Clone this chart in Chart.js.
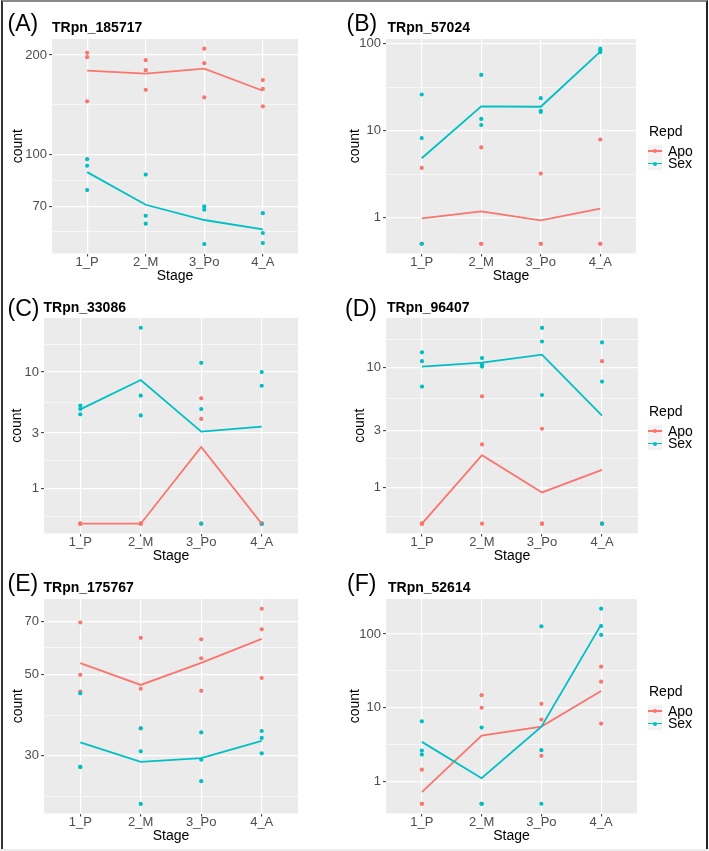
<!DOCTYPE html>
<html>
<head>
<meta charset="utf-8">
<script src="https://cdn.jsdelivr.net/npm/chart.js@4.4.1/dist/chart.umd.min.js"></script>
<style>
  body { margin: 0; width: 709px; height: 851px; position: relative; background: #fff; overflow: hidden;
         font-family: "Liberation Sans", Arial, Helvetica, sans-serif; }
  #frame { position: absolute; left: 1px; top: 0; width: 707px; height: 849px; box-sizing: border-box;
           border-top: 2px solid #8a8a8a; border-left: 2px solid #333; border-right: 2px solid #222; }
  #strip { position: absolute; left: 0; top: 849px; width: 709px; height: 2px; background: #ececec; }
  canvas { position: absolute; }
  .tag { position: absolute; font-size: 23px; line-height: 23px; color: #000; white-space: nowrap; }
  .ttl { position: absolute; font-size: 14px; line-height: 14px; font-weight: bold; color: #000; white-space: nowrap; }
  .lg { position: absolute; font-size: 14px; line-height: 14px; color: #000; white-space: nowrap; }
  .key { position: absolute; width: 14px; height: 12.5px; background: #f2f2f2; }
  .key i { position: absolute; left: 0; top: 5.4px; width: 14px; height: 1.8px; }
  .key b { position: absolute; left: 5px; top: 4.25px; width: 4px; height: 4px; border-radius: 2px; }
</style>
</head>
<body>
<div id="frame"></div>
<div id="strip"></div>
<script>
const stages = ['1_P', '2_M', '3_Po', '4_A'];
const groups = ['Apo', 'Sex'];
const colors = ['#F8766D', '#00BFC4'];
const legendTitle = 'Repd';

// one array per stage, zero counts sit at 0.5
// (A) TRpn_185717
const aApo = [[203, 197, 145], [193, 180, 157], [209, 189, 149], [168, 158, 140]];
const aSex = [[97, 92.7, 78.3], [87.2, 65.5, 62], [69.9, 68.3, 53.8], [66.7, 58.1, 54.2]];
const aApoMean = [179.5, 175.7, 182, 156];
const aSexMean = [88.7, 70.7, 63.6, 59.6];

// (B) TRpn_57024
const bApo = [[3.72, 0.5, 0.5], [6.4, 0.5, 0.5], [3.2, 0.5, 0.5], [7.9, 0.5, 0.5]];
const bSex = [[26, 8.2, 0.5], [43.7, 13.6, 11.6], [23.6, 16.9, 16.4], [87.5, 83.4, 80]];
const bApoMean = [0.98, 1.18, 0.93, 1.27];
const bSexMean = [4.8, 19, 18.8, 81];

// (C) TRpn_33086
const cApo = [[0.5, 0.5, 0.5], [0.5, 0.5, 0.5], [5.95, 3.96, 0.5], [0.5, 0.5, 0.5]];
const cSex = [[5.15, 4.82, 4.34], [24, 6.27, 4.25], [12, 4.82, 0.5], [10, 7.63, 0.5]];
const cApoMean = [0.5, 0.5, 2.28, 0.5];
const cSexMean = [4.78, 8.54, 3.08, 3.4];

// (D) TRpn_96407
const dApo = [[0.5, 0.5, 0.5], [5.76, 2.29, 0.5], [3.09, 0.5, 0.5], [11.3, 0.5, 0.5]];
const dSex = [[13.4, 11.3, 6.94], [12, 10.65, 10.2], [21.4, 16.5, 5.91], [16.2, 7.64, 0.5]];
const dApoMean = [0.5, 1.86, 0.91, 1.405];
const dSexMean = [10.2, 11, 12.8, 3.97];

// (E) TRpn_175767
const eApo = [[69.4, 49.9, 44.9], [63, 45.7, 35.6], [62.4, 55.4, 45.1], [75.7, 66.5, 48.9]];
const eSex = [[44.4, 27.9, 27.9], [35.6, 30.8, 22.1], [34.7, 29.2, 25.5], [35, 33.5, 30.4]];
const eApoMean = [53.7, 46.8, 53.8, 62.6];
const eSexMean = [32.6, 28.8, 29.5, 32.9];

// (F) TRpn_52614
const fApo = [[1.45, 0.5, 0.5], [14.8, 10, 0.5], [11.3, 6.92, 2.23], [36.1, 22.6, 6.1]];
const fSex = [[6.56, 2.63, 2.32], [5.39, 0.5, 0.5], [127, 2.66, 0.5], [220, 128, 97]];
const fApoMean = [0.72, 4.2, 5.56, 16.9];
const fSexMean = [3.45, 1.11, 5.56, 134];

// y axis breaks per panel
const breaksA = [70, 100, 200], minorA = [58.6, 83.7, 141.4];
const breaksB = [1, 10, 100], minorB = [3.16, 31.6];
const breaksC = [1, 3, 10], minorC = [0.577, 1.73, 5.48, 17.3];
const breaksE = [30, 50, 70], minorE = [23.2, 38.7, 59.2];

const panels = [
  {tag: '(A)', name: 'TRpn_185717', apo: aApo, sex: aSex, apoM: aApoMean, sexM: aSexMean,
   min: 50.4, max: 223.5, br: breaksA, mi: minorA,
   x: 0, w: 302, padR: 2, axisW: 52, cntPad: 9.6, top: 39, bot: 254,
   tagPos: [7.5, 12.2], ttlPos: [52, 19.9]},
  {tag: '(B)', name: 'TRpn_57024', apo: bApo, sex: bSex, apoM: bApoMean, sexM: bSexMean,
   min: 0.386, max: 113, br: breaksB, mi: minorB,
   x: 300, w: 409, padR: 73, axisW: 86, cntPad: 46.6, top: 39, bot: 254,
   tagPos: [346.5, 12.2], ttlPos: [387.5, 20.4], legend: 131},
  {tag: '(C)', name: 'TRpn_33086', apo: cApo, sex: cSex, apoM: cApoMean, sexM: cSexMean,
   min: 0.412, max: 29.1, br: breaksC, mi: minorC,
   x: 0, w: 302, padR: 2, axisW: 44, cntPad: 8.3, top: 318, bot: 534,
   tagPos: [7.5, 297.2], ttlPos: [43.5, 299.9]},
  {tag: '(D)', name: 'TRpn_96407', apo: dApo, sex: dSex, apoM: dApoMean, sexM: dSexMean,
   min: 0.414, max: 25.9, br: breaksC, mi: minorC,
   x: 300, w: 409, padR: 71, axisW: 86, cntPad: 51.3, top: 318, bot: 534,
   tagPos: [345, 297.2], ttlPos: [387, 300.4], legend: 411},
  {tag: '(E)', name: 'TRpn_175767', apo: eApo, sex: eSex, apoM: eApoMean, sexM: eSexMean,
   min: 20.8, max: 80.5, br: breaksE, mi: minorE,
   x: 0, w: 302, padR: 2, axisW: 44, cntPad: 9.6, top: 599, bot: 814,
   tagPos: [7.5, 572.2], ttlPos: [43.5, 580.4]},
  {tag: '(F)', name: 'TRpn_52614', apo: fApo, sex: fSex, apoM: fApoMean, sexM: fSexMean,
   min: 0.369, max: 298, br: breaksB, mi: minorB,
   x: 300, w: 409, padR: 72, axisW: 86, cntPad: 46.6, top: 599, bot: 814,
   tagPos: [347, 572.2], ttlPos: [388, 580.4], legend: 691}
];

// grey panel background like ggplot
const panelBg = {
  id: 'panelBg',
  beforeDraw(chart) {
    const {ctx, chartArea: a} = chart;
    ctx.save();
    ctx.fillStyle = '#EBEBEB';
    ctx.fillRect(a.left, a.top, a.right - a.left, a.bottom - a.top);
    ctx.restore();
  }
};

function addText(cls, txt, x, y) {
  const d = document.createElement('div');
  d.className = cls;
  d.textContent = txt;
  d.style.left = x + 'px';
  d.style.top = y + 'px';
  document.body.appendChild(d);
}

function addLegend(x, y) {
  addText('lg', legendTitle, x + 1, y - 7.3);
  groups.forEach((g, i) => {
    const cy = y + 20 + i * 12.5;
    const k = document.createElement('div');
    k.className = 'key';
    k.style.left = x + 'px';
    k.style.top = (cy - 6.25) + 'px';
    k.innerHTML = '<i style="background:' + colors[i] + '"></i><b style="background:' + colors[i] + '"></b>';
    document.body.appendChild(k);
    addText('lg', g, x + 20, cy - 7.3);
  });
}

const toPoints = rows => rows.flatMap((vals, i) => vals.map(v => ({x: i + 1, y: v})));
const toLine = vals => vals.map((v, i) => ({x: i + 1, y: v}));

function makePanel(p) {
  const xAxisH = 31.5;
  const cv = document.createElement('canvas');
  cv.width = p.w;
  cv.height = p.bot - p.top + 10 + xAxisH;
  cv.style.left = p.x + 'px';
  cv.style.top = (p.top - 10) + 'px';
  document.body.appendChild(cv);

  addText('tag', p.tag, p.tagPos[0], p.tagPos[1]);
  addText('ttl', p.name, p.ttlPos[0], p.ttlPos[1]);
  if (p.legend) addLegend(648, p.legend);

  const yTicks = p.br.map(v => ({value: v})).concat(p.mi.map(v => ({value: v, minor: true})));

  new Chart(cv, {
    type: 'scatter',
    data: {
      datasets: [
        {label: groups[1], data: toLine(p.sexM), showLine: true, borderColor: colors[1], borderWidth: 1.8, pointRadius: 0, order: 0},
        {label: groups[0], data: toLine(p.apoM), showLine: true, borderColor: colors[0], borderWidth: 1.8, pointRadius: 0, order: 1},
        {label: groups[1], data: toPoints(p.sex), backgroundColor: colors[1], borderWidth: 0, pointRadius: 2.1, order: 2},
        {label: groups[0], data: toPoints(p.apo), backgroundColor: colors[0], borderWidth: 0, pointRadius: 2.1, order: 3}
      ]
    },
    options: {
      responsive: false,
      animation: false,
      layout: {padding: {left: 0, top: 10, right: p.padR, bottom: 0}},
      plugins: {legend: {display: false}, tooltip: {enabled: false}},
      scales: {
        x: {
          type: 'linear', min: 0.4, max: 4.6,
          afterBuildTicks: s => { s.ticks = stages.map((c, i) => ({value: i + 1})); },
          afterFit: s => { s.height = xAxisH; },
          ticks: {callback: v => stages[v - 1], color: '#4D4D4D', font: {size: 13}, padding: -1.5, autoSkip: false, maxRotation: 0},
          grid: {color: '#fff', lineWidth: 1.2, tickLength: 3, tickColor: '#333', tickWidth: 1},
          border: {display: false},
          title: {display: true, text: 'Stage', color: '#000', font: {size: 14}, padding: 0}
        },
        y: {
          type: 'logarithmic', min: p.min, max: p.max,
          afterBuildTicks: s => { s.ticks = yTicks.map(t => Object.assign({}, t)); },
          afterFit: s => { s.width = p.axisW; },
          ticks: {
            callback: (v, i, ts) => ts[i].minor ? '' : String(v),
            color: '#4D4D4D', font: {size: 13}, padding: 2, autoSkip: false
          },
          grid: {
            color: '#fff',
            lineWidth: c => c.tick && c.tick.minor ? 0.6 : 1.2,
            tickLength: 3,
            tickColor: c => c.tick && c.tick.minor ? 'rgba(0,0,0,0)' : '#333',
            tickWidth: 1
          },
          border: {display: false},
          title: {display: true, text: 'count', color: '#000', font: {size: 14}, padding: {top: p.cntPad, bottom: 0}}
        }
      }
    },
    plugins: [panelBg]
  });
}

panels.forEach(makePanel);
</script>
</body>
</html>
